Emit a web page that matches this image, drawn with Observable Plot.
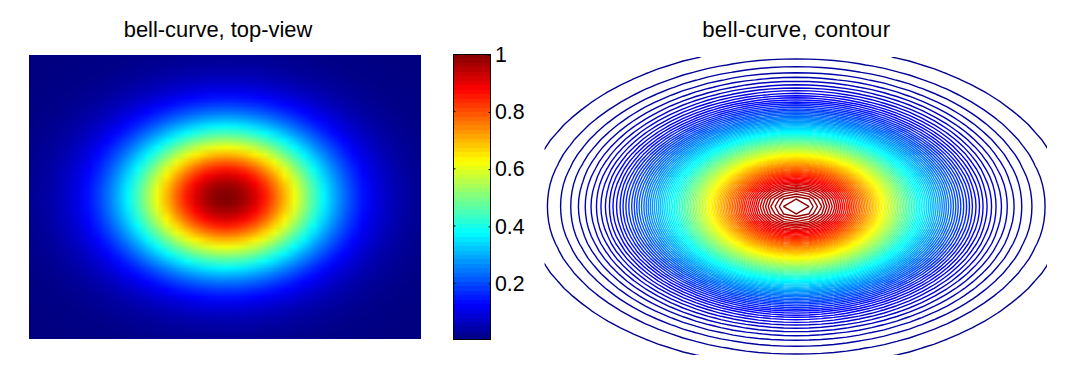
<!DOCTYPE html>
<html>
<head>
<meta charset="utf-8">
<script src="https://cdn.jsdelivr.net/npm/d3@7"></script>
<script src="https://cdn.jsdelivr.net/npm/@observablehq/plot@0.6"></script>
<style>
  html, body { margin: 0; padding: 0; background: #fff; }
  #chart { position: relative; width: 1077px; height: 372px; overflow: hidden; }
  #chart > svg { position: absolute; top: 0; background: transparent; }
</style>
</head>
<body>
<div id="chart"></div>
<script>
// Surface height along the horizontal and vertical centre lines, estimated from
// where the contours cross them and from the heatmap colours (41 samples each).
// The 2-D grid is approximated as the product of these two read profiles.
const xProfile = [0.0183,0.0271,0.0392,0.0556,0.0773,0.1054,0.1409,0.1845,0.2369,0.2982,0.3679,0.4449,0.5273,0.6126,0.6977,0.7788,0.8521,0.9139,0.9608,0.9901,1,0.9901,0.9608,0.9139,0.8521,0.7788,0.6977,0.6126,0.5273,0.4449,0.3679,0.2982,0.2369,0.1845,0.1409,0.1054,0.0773,0.0556,0.0392,0.0271,0.0183];
const yProfile = [0.0183,0.0271,0.0392,0.0556,0.0773,0.1054,0.1409,0.1845,0.2369,0.2982,0.3679,0.4449,0.5273,0.6126,0.6977,0.7788,0.8521,0.9139,0.9608,0.9901,1,0.9901,0.9608,0.9139,0.8521,0.7788,0.6977,0.6126,0.5273,0.4449,0.3679,0.2982,0.2369,0.1845,0.1409,0.1054,0.0773,0.0556,0.0392,0.0271,0.0183];
const contourLevels = d3.range(1, 100).map(k => k / 100);
const colorbarTicks = [0.2, 0.4, 0.6, 0.8, 1];
const jetStops = [0, 0.125, 0.375, 0.625, 0.875, 1];
const jetColors = ["#000080", "#0000ff", "#00ffff", "#ffff00", "#ff0000", "#800000"];
const titles = ["bell-curve, top-view", "bell-curve, contour"];

const nx = xProfile.length, ny = yProfile.length;
const grid = yProfile.flatMap(a => xProfile.map(b => a * b));
const halfCellX = 1 / (nx - 1), halfCellY = 1 / (ny - 1);
const extent = {width: nx, height: ny, x1: -1 - halfCellX, x2: 1 + halfCellX, y1: -1 - halfCellY, y2: 1 + halfCellY};
const jet = {type: "linear", domain: jetStops, range: jetColors, interpolate: "rgb", clamp: true};
const font = "'Liberation Sans', Helvetica, Arial, sans-serif";
const unit = {domain: [-1, 1]};

function place(svg, left) { svg.style.left = left + "px"; document.getElementById("chart").append(svg); }

// left: heat map
place(Plot.plot({
  width: 440, height: 372, marginLeft: 29, marginRight: 19, marginTop: 55, marginBottom: 33,
  style: {fontFamily: font},
  x: {...unit, axis: null}, y: {...unit, axis: null}, color: jet,
  marks: [
    Plot.raster(grid, {...extent, fill: Plot.identity, clip: true}),
    Plot.text([titles[0]], {frameAnchor: "top", dx: -7.5, dy: -34, fontSize: 21.9, fill: "#000"})
  ]
}), 0);

// middle: colour bar
const barLevels = d3.range(0, 64).map(k => (k + 0.5) / 64);
place(Plot.plot({
  width: 100, height: 372, marginLeft: 13, marginRight: 50, marginTop: 54, marginBottom: 33,
  style: {fontFamily: font},
  x: {domain: [0, 1], axis: null}, y: {domain: [0.003, 1], axis: null}, color: jet,
  marks: [
    Plot.rect(barLevels, {x1: 0, x2: 1, y1: d => d - 0.5 / 64, y2: d => d + 0.5 / 64, fill: d => d, clip: true, shapeRendering: "crispEdges"}),
    Plot.axisY(colorbarTicks, {anchor: "right", tickSize: -2.5, tickPadding: 7, fontSize: 21.3, color: "#000", tickFormat: d => String(d), stroke: "#000", dy: 0.8}),
    Plot.axisY(colorbarTicks, {anchor: "left", tickSize: -2.5, text: () => "", stroke: "#000"}),
    Plot.frame({stroke: "#000", strokeWidth: 1})
  ]
}), 440);

// right: contours
place(Plot.plot({
  width: 537, height: 372, marginLeft: 4.5, marginRight: 30, marginTop: 57, marginBottom: 17,
  style: {fontFamily: font, letterSpacing: "0.3px"},
  x: {...unit, axis: null}, y: {...unit, axis: null}, color: jet,
  marks: [
    Plot.contour(grid, {...extent, stroke: Plot.identity, fill: "none", thresholds: contourLevels, strokeWidth: 1.4, clip: true}),
    Plot.text([titles[1]], {frameAnchor: "top", dy: -36, fontSize: 22.2, fill: "#000"})
  ]
}), 540);
</script>
</body>
</html>
